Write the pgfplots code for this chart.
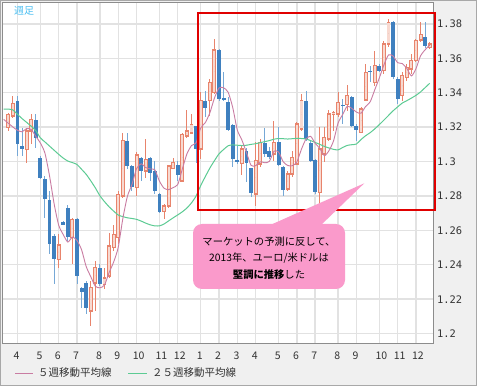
\documentclass[border=0pt]{standalone}
\usepackage{pgfplots}
\pgfplotsset{compat=1.18}
\usepackage{pgfplotstable}
\usepackage{fontspec}
\setmainfont{Noto Sans CJK JP}
\newfontfamily\monof{DejaVu Sans Mono}
\definecolor{panel}{HTML}{F0F0F0}
\definecolor{framec}{HTML}{8C8C8C}
\definecolor{outer}{HTML}{A8A8A8}
\definecolor{gridc}{HTML}{E2E2E2}
\definecolor{upline}{HTML}{E8846C}
\definecolor{upfill}{HTML}{F8D9D0}
\definecolor{dnbody}{HTML}{3F80BF}
\definecolor{dnwick}{HTML}{76A8D6}
\definecolor{maf}{HTML}{C97CA2}
\definecolor{mas}{HTML}{5CCB93}
\definecolor{txt}{HTML}{333333}
\definecolor{wk}{HTML}{4DC0F2}
\definecolor{boxred}{HTML}{E00000}
\definecolor{callout}{HTML}{FA9ACB}

\pgfplotstableread{
i O H L C
1 1.3197 1.3284 1.3177 1.3274
2 1.3264 1.3381 1.3255 1.3336
5 1.3071 1.3197 1.2993 1.3177
6 1.3177 1.3274 1.3100 1.3245
12 1.2431 1.2576 1.2383 1.2514
15 1.2557 1.2673 1.2406 1.2664
19 1.2131 1.2305 1.2044 1.2266
20 1.2295 1.2421 1.2131 1.2383
22 1.2286 1.2383 1.2257 1.2324
23 1.2334 1.2586 1.2324 1.2509
24 1.2499 1.2634 1.2479 1.2576
25 1.2557 1.2828 1.2518 1.2809
26 1.2799 1.3167 1.2790 1.3123
29 1.2848 1.3057 1.2799 1.3038
31 1.2945 1.3129 1.2906 1.3012
35 1.2708 1.2751 1.2664 1.2741
36 1.2741 1.2983 1.2731 1.2974
37 1.2960 1.3022 1.2954 1.2993
39 1.2886 1.3167 1.2886 1.3158
40 1.3148 1.3297 1.3138 1.3177
41 1.3167 1.3274 1.3158 1.3216
43 1.3073 1.3403 1.3015 1.3354
45 1.3354 1.3480 1.3267 1.3461
46 1.3403 1.3713 1.3393 1.3649
52 1.2990 1.3093 1.2920 1.3073
55 1.2812 1.3112 1.2744 1.3005
56 1.2986 1.3131 1.2967 1.3112
59 1.3044 1.3238 1.3005 1.3112
62 1.2841 1.2947 1.2831 1.2928
63 1.2928 1.3064 1.2909 1.3025
64 1.2986 1.3228 1.2986 1.3219
65 1.3190 1.3393 1.3180 1.3354
69 1.2821 1.3199 1.2753 1.3073
70 1.3044 1.3199 1.2996 1.3141
71 1.3131 1.3300 1.3122 1.3277
72 1.3277 1.3296 1.3180 1.3286
73 1.3277 1.3403 1.3257 1.3345
75 1.3331 1.3447 1.3296 1.3383
78 1.3170 1.3319 1.3164 1.3306
79 1.3358 1.3567 1.3354 1.3519
81 1.3461 1.3645 1.3441 1.3558
83 1.3529 1.3703 1.3509 1.3684
84 1.3684 1.3829 1.3664 1.3810
87 1.3383 1.3519 1.3354 1.3500
88 1.3490 1.3567 1.3471 1.3548
89 1.3538 1.3626 1.3509 1.3587
90 1.3587 1.3713 1.3577 1.3703
91 1.3707 1.3810 1.3693 1.3738
93 1.3664 1.3693 1.3655 1.3684
}\upc

\pgfplotstableread{
i O H L C
3 1.3352 1.3381 1.3032 1.3100
4 1.3090 1.3197 1.3032 1.3074
7 1.3239 1.3274 1.3080 1.3138
8 1.3022 1.3032 1.2896 1.2906
9 1.2896 1.2916 1.2673 1.2780
10 1.2774 1.2828 1.2460 1.2518
11 1.2567 1.2576 1.2286 1.2431
13 1.2648 1.2654 1.2634 1.2634
14 1.2728 1.2745 1.2538 1.2561
16 1.2669 1.2673 1.2286 1.2334
17 1.2266 1.2272 1.2150 1.2243
18 1.2295 1.2305 1.2111 1.2150
21 1.2383 1.2402 1.2276 1.2286
27 1.3119 1.3167 1.2954 1.2974
28 1.2974 1.2983 1.2828 1.2852
30 1.3018 1.3026 1.2886 1.2948
32 1.3018 1.3026 1.2886 1.2935
33 1.2945 1.3003 1.2809 1.2828
34 1.2813 1.2819 1.2702 1.2708
38 1.2979 1.3003 1.2886 1.2921
42 1.3206 1.3206 1.2993 1.3071
44 1.3354 1.3412 1.3257 1.3312
47 1.3649 1.3655 1.3354 1.3364
48 1.3370 1.3519 1.3354 1.3358
49 1.3345 1.3374 1.3180 1.3184
50 1.3213 1.3219 1.2967 1.3015
51 1.3009 1.3093 1.2986 1.2996
53 1.3060 1.3080 1.2880 1.2990
54 1.2961 1.2961 1.2792 1.2815
57 1.3106 1.3193 1.3025 1.3044
58 1.3064 1.3083 1.3015 1.3029
60 1.3116 1.3199 1.2976 1.2982
61 1.2971 1.2976 1.2802 1.2835
66 1.3350 1.3412 1.3122 1.3131
67 1.3106 1.3118 1.2996 1.3005
68 1.3009 1.3015 1.2812 1.2821
74 1.3331 1.3364 1.3219 1.3321
76 1.3378 1.3383 1.3199 1.3209
77 1.3209 1.3219 1.3122 1.3184
80 1.3529 1.3558 1.3461 1.3519
82 1.3558 1.3567 1.3519 1.3529
85 1.3810 1.3819 1.3480 1.3490
86 1.3480 1.3490 1.3335 1.3364
92 1.3726 1.3810 1.3660 1.3674
}\dnc

\pgfplotstableread{
i v
0 1.3245
1 1.3223
2 1.3201
3 1.3182
4 1.3173
5 1.3192
6 1.3186
7 1.3147
8 1.3108
9 1.3049
10 1.2917
11 1.2755
12 1.2630
13 1.2575
14 1.2532
15 1.2561
16 1.2541
17 1.2487
18 1.2390
19 1.2331
20 1.2275
21 1.2266
22 1.2282
23 1.2354
24 1.2416
25 1.2501
26 1.2668
27 1.2798
28 1.2867
29 1.2959
30 1.2987
31 1.2965
32 1.2957
33 1.2952
34 1.2886
35 1.2845
36 1.2837
37 1.2849
38 1.2867
39 1.2957
40 1.3045
41 1.3093
42 1.3109
43 1.3195
44 1.3226
45 1.3283
46 1.3369
47 1.3428
48 1.3429
49 1.3403
50 1.3314
51 1.3183
52 1.3125
53 1.3052
54 1.2978
55 1.2976
56 1.2999
57 1.2993
58 1.3001
59 1.3060
60 1.3056
61 1.3000
62 1.2977
63 1.2976
64 1.2998
65 1.3072
66 1.3131
67 1.3147
68 1.3106
69 1.3077
70 1.3034
71 1.3063
72 1.3120
73 1.3224
74 1.3274
75 1.3322
76 1.3309
77 1.3288
78 1.3281
79 1.3320
80 1.3347
81 1.3417
82 1.3486
83 1.3562
84 1.3620
85 1.3614
86 1.3575
87 1.3570
88 1.3542
89 1.3498
90 1.3540
91 1.3615
92 1.3650
93 1.3677
}\mafive

\pgfplotstableread{
i v
0 1.3305
1 1.3305
2 1.3300
3 1.3275
4 1.3250
5 1.3228
6 1.3205
7 1.3180
8 1.3138
9 1.3114
10 1.3090
11 1.3066
12 1.3042
13 1.3020
14 1.3003
15 1.2994
16 1.2983
17 1.2955
18 1.2926
19 1.2888
20 1.2847
21 1.2801
22 1.2767
23 1.2737
24 1.2712
25 1.2689
26 1.2680
27 1.2673
28 1.2669
29 1.2664
30 1.2654
31 1.2642
32 1.2632
33 1.2626
34 1.2626
35 1.2637
36 1.2655
37 1.2673
38 1.2690
39 1.2708
40 1.2730
41 1.2760
42 1.2800
43 1.2860
44 1.2912
45 1.2962
46 1.3005
47 1.3045
48 1.3070
49 1.3092
50 1.3097
51 1.3095
52 1.3093
53 1.3095
54 1.3100
55 1.3104
56 1.3110
57 1.3116
58 1.3122
59 1.3130
60 1.3134
61 1.3133
62 1.3131
63 1.3133
64 1.3135
65 1.3134
66 1.3131
67 1.3122
68 1.3111
69 1.3100
70 1.3088
71 1.3079
72 1.3071
73 1.3068
74 1.3082
75 1.3094
76 1.3098
77 1.3102
78 1.3128
79 1.3150
80 1.3168
81 1.3190
82 1.3215
83 1.3241
84 1.3268
85 1.3295
86 1.3318
87 1.3340
88 1.3354
89 1.3369
90 1.3385
91 1.3405
92 1.3430
93 1.3455
}\matwentyfive

\pgfplotsset{
  candle/.style={only marks, mark=*, mark size=0pt, mark options={draw=none, fill=none}, forget plot,
    error bars/y dir=both, error bars/y explicit, error bars/error mark=none},
}

\begin{document}
\begin{tikzpicture}
\useasboundingbox (0,0) rectangle (477pt,386pt);
\fill[panel] (0,0) rectangle (477pt,386pt);
\draw[outer, line width=1pt] (0.5pt,0.5pt) rectangle (476.5pt,385.5pt);
\begin{axis}[
  at={(3pt,43pt)}, anchor=south west,
  scale only axis, width=430pt, height=340pt,
  xmin=-0.157, xmax=93.72, ymin=1.1945, ymax=1.3922,
  axis background/.style={fill=white},
  axis line style={draw=framec, line width=1pt},
  xtick={3,8,12,16,21,25,29,34,38,43,47,51,55,60,64,68,73,77,82,86,90},
  xticklabels={4,5,6,7,8,9,10,11,12,1,2,3,4,5,6,7,8,9,10,11,12},
  ytick={1.2,1.22,1.24,1.26,1.28,1.3,1.32,1.34,1.36,1.38},
  yticklabels={1.2,1.22,1.24,1.26,1.28,1.3,1.32,1.34,1.36,1.38},
  yticklabel pos=right,
  major tick length=0pt,
  grid=major,
  major grid style={draw=gridc, line width=1.4pt},
  xticklabel style={font=\fontsize{10.5}{12}\selectfont, text=txt, anchor=base west, inner sep=0pt, xshift=-4pt, yshift=-16pt},
  yticklabel style={font=\monof\fontsize{10.4}{12}\selectfont, text=txt, anchor=west, inner sep=0pt, xshift=4pt},
]
% wicks
\addplot [candle, error bars/error bar style={draw=upline, line width=1pt}]
  table [x=i, y expr=(\thisrow{H}+\thisrow{L})/2, y error expr=(\thisrow{H}-\thisrow{L})/2] {\upc};
\addplot [candle, error bars/error bar style={draw=dnwick, line width=1pt}]
  table [x=i, y expr=(\thisrow{H}+\thisrow{L})/2, y error expr=(\thisrow{H}-\thisrow{L})/2] {\dnc};
% up bodies: outline and fill
\addplot [candle, error bars/error bar style={draw=upline, line width=3.9pt, line cap=butt}]
  table [x=i, y expr=(\thisrow{O}+\thisrow{C})/2, y error expr=(\thisrow{C}-\thisrow{O})/2+0.0004] {\upc};
\addplot [candle, error bars/error bar style={draw=upfill, line width=2.1pt, line cap=butt}]
  table [x=i, y expr=(\thisrow{O}+\thisrow{C})/2, y error expr={max((\thisrow{C}-\thisrow{O})/2-0.0004,0)}] {\upc};
% down bodies
\addplot [candle, error bars/error bar style={draw=dnbody, line width=3.9pt, line cap=butt}]
  table [x=i, y expr=(\thisrow{O}+\thisrow{C})/2, y error expr=(\thisrow{O}-\thisrow{C})/2] {\dnc};
% moving averages
\addplot [mas, line width=1pt, smooth, tension=0.4, forget plot] table [x=i, y=v] {\matwentyfive};
\addplot [maf, line width=0.9pt, smooth, tension=0.4, forget plot] table [x=i, y=v] {\mafive};
\end{axis}
% top-left label
\node[anchor=west, inner sep=0pt, text=wk, font=\fontsize{10}{12}\selectfont] at (14pt,375pt) {週足};
% legend
\draw[maf, line width=1pt] (15pt,13pt) -- (33pt,13pt);
\node[anchor=west, inner sep=0pt, text=txt, font=\fontsize{10.5}{12}\selectfont] at (38pt,13pt) {５週移動平均線};
\draw[mas, line width=1pt] (128pt,13pt) -- (147pt,13pt);
\node[anchor=west, inner sep=0pt, text=txt, font=\fontsize{10.5}{12}\selectfont] at (152pt,13pt) {２５週移動平均線};
% red frame
\draw[boxred, line width=2pt] (198.3pt,176.3pt) rectangle (434.5pt,373.3pt);
% callout (drawn over the frame)
\fill[callout, rounded corners=9pt] (193pt,97pt) rectangle (345pt,162pt);
\fill[callout] (268pt,160pt) -- (364.3pt,202.7pt) -- (320pt,160pt) -- cycle;
\node[align=center, inner sep=0pt, text=black, font=\fontsize{10.3}{16.5}\selectfont] at (269pt,128pt)
  {マーケットの予測に反して、\\2013年、ユーロ/米ドルは\\\textbf{堅調に推移}した};
\end{tikzpicture}
\end{document}
